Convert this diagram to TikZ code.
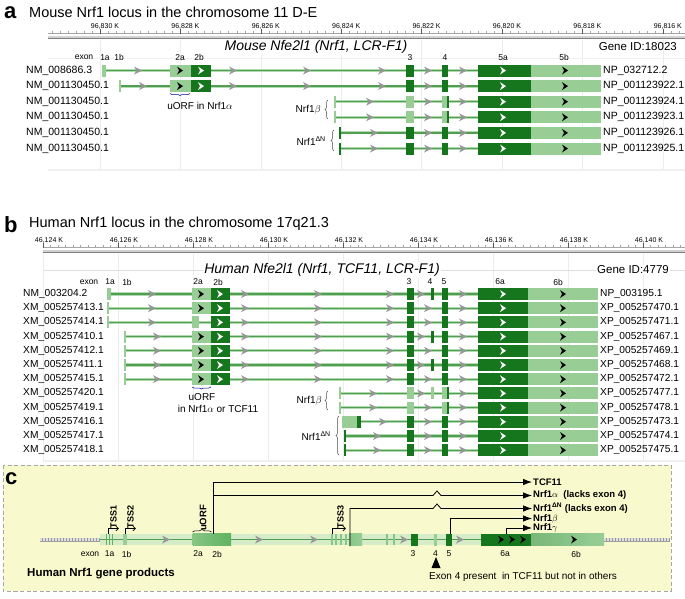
\documentclass[tikz,border=0pt]{standalone}
\usepackage{fontspec}
\setmainfont{Liberation Sans}
\usetikzlibrary{arrows.meta}
\usetikzlibrary{decorations.pathreplacing}
\usepackage{xcolor}
\definecolor{exdk}{RGB}{22,118,30}
\definecolor{exlt}{RGB}{152,206,150}
\definecolor{exmid}{RGB}{96,178,96}
\definecolor{trk}{RGB}{80,158,80}
\definecolor{trklt}{RGB}{178,218,176}
\definecolor{arrgr}{RGB}{150,150,150}
\definecolor{pnlc}{RGB}{248,249,204}
\definecolor{bandc}{RGB}{214,236,200}

\begin{document}
\begin{tikzpicture}[x=1pt,y=-1pt,
  bb/.style={draw=trklt, line width=.9pt, double=trk, double distance=1.3pt},
  dk/.style={fill=exdk}, lt/.style={fill=exlt},
  rowlab/.style={anchor=west, inner sep=0, font=\fontsize{10.5}{12}\selectfont},
  rowlabb/.style={anchor=west, inner sep=0, font=\fontsize{10.2}{12}\selectfont},
  exlab/.style={inner sep=0, font=\fontsize{8.5}{10}\selectfont},
  ticklab/.style={inner sep=0, font=\fontsize{7}{8}\selectfont},
  panlab/.style={anchor=west, inner sep=0, font=\fontsize{22}{22}\selectfont\bfseries},
  ttl/.style={anchor=west, inner sep=0, font=\fontsize{14.5}{16}\selectfont},
  gtl/.style={inner sep=1pt, fill=white, font=\fontsize{14}{16}\selectfont\itshape},
  gid/.style={anchor=east, inner sep=0, font=\fontsize{11.5}{13}\selectfont},
  isolab/.style={anchor=east, inner sep=0, font=\fontsize{10}{12}\selectfont},
  txt/.style={inner sep=0, font=\fontsize{10}{12}\selectfont},
  brc/.style={decorate, decoration={brace, amplitude=3pt}, draw=black!70, line width=.5pt},
  pr/.style={draw, line width=.8pt, -{Latex[length=9pt,width=6.5pt]}},
  tss/.style={draw, line width=.7pt, -{Straight Barb[length=2.5pt,width=4.5pt]}},
  tsslab/.style={inner sep=0, rotate=90, font=\fontsize{9}{10}\selectfont\bfseries},
  plab/.style={anchor=west, inner sep=1pt, font=\fontsize{9.5}{11}\selectfont\bfseries},
  ruleend/.style={draw=gray!75, line width=.7pt, double=gray!25, double distance=2.6pt},
  garr/.pic={\fill[arrgr] (-4,-4) -- (4,0) -- (-4,4) -- (-1.5,0) -- cycle;},
  chev/.pic={\fill (-3,-4) -- (3,0) -- (-3,4) -- (-1,0) -- cycle;}
]
\useasboundingbox (0,0) rectangle (685,598);

% ---------- a: mouse locus
\foreach \k in {0,...,7} \draw[gray!15] ({100+80.4*\k},40) -- ++(0,130);
\draw[gray!12] (48,58) -- (685,58);
\draw[gray!12, line width=2.5pt] (48,170) -- (685,170);
\node[panlab] (pa) at (4,13) {a};
\node[ttl] (ta) at (29,12.5) {Mouse Nrf1 locus in the chromosome 11 D-E};
\draw[gray!70, line width=.4pt] (48,33) -- (685,33);
\foreach \k in {-6,...,72} \draw[gray!70, line width=.3pt] ({100+8.04*\k},33) -- ++(0,-2);
\foreach \kv [count=\k from 0] in {830,828,...,816} {
  \draw[gray!70!black, line width=.4pt] ({100+80.4*\k},34) -- ++(0,-5);
  \node[ticklab] (ka\k) at ({105+80.4*\k},26.5) {96,\kv\ K};
}
\draw[gray, line width=.7pt, double=gray!35, double distance=1.6pt] (48,37) -- (685,37);
\node[gtl] (ga) at (316,47) {Mouse Nfe2l1 (Nrf1, LCR-F1)};
\node[gid] (ia) at (677,47) {Gene ID:18023};
\foreach \lb/\x in {exon/84,1a/105,1b/119,2a/180,2b/199,3/410,4/445,5a/503,5b/564}
  \node[exlab] (xa\lb) at (\x,57.5) {\lb};

\foreach \i/\nm/\np in {0/NM\_008686.3/NP\_032712.2, 1/NM\_001130450.1/NP\_001123922.1,
    2/NM\_001130450.1/NP\_001123924.1, 3/NM\_001130450.1/NP\_001123923.1,
    4/NM\_001130450.1/NP\_001123926.1, 5/NM\_001130450.1/NP\_001123925.1} {
  \node[rowlab] (ra\i) at (26,70.5+15.6*\i) {\nm};
  \node[rowlab] (qa\i) at (603,70.5+15.6*\i) {\np};
}
\foreach \i/\s in {0/104,1/119,2/335,3/335,4/340,5/340} {
  \pgfmathsetmacro\y{70.5+15.6*\i}
  \draw[bb] (\s,\y) -- (601,\y);
  \fill[dk] (478,\y-6) rectangle (531,\y+6);
  \fill[lt] (531,\y-6) rectangle (601,\y+6);
  \pic[white] at (503,\y) {chev};
  \pic[black] at (565,\y) {chev};
  \pic at (428,\y) {garr};
  \pic at (463,\y) {garr};
}
\fill[lt] (102,64.5) rectangle (106,76.5);
\fill[lt] (118.5,80.1) rectangle (120.5,92.1);
\foreach \i/\ar in {0/138,1/143} {
  \pgfmathsetmacro\y{70.5+15.6*\i}
  \fill[lt] (170,\y-6) rectangle (191,\y+6);
  \fill[dk] (191,\y-6) rectangle (211,\y+6);
  \pic[black] at (180,\y) {chev};
  \pic[white] at (201,\y) {chev};
  \foreach \x in {\ar,233,307,382} \pic at (\x,\y) {garr};
  \fill[dk] (406,\y-6) rectangle (414,\y+6);
  \fill[dk] (442,\y-6) rectangle (448,\y+6);
}
\foreach \i in {2,3} {
  \pgfmathsetmacro\y{70.5+15.6*\i}
  \fill[lt] (334,\y-6) rectangle (336,\y+6);
  \pic at (370,\y) {garr};
  \fill[lt] (406,\y-6) rectangle (414,\y+6);
  \fill[lt] (442,\y-6) rectangle (447,\y+6);
  \fill[dk] (447,\y-6) rectangle (448.5,\y+6);
}
\foreach \i in {4,5} {
  \pgfmathsetmacro\y{70.5+15.6*\i}
  \fill[dk] (339,\y-6) rectangle (341,\y+6);
  \pic at (374,\y) {garr};
  \fill[dk] (406,\y-6) rectangle (414,\y+6);
  \fill[dk] (442,\y-6) rectangle (448,\y+6);
}
\draw[brc, draw=blue!60!black, decoration={amplitude=2pt}] (190,93.5) -- (170,93.5);
\node[txt] (ua) at (200,106) {uORF in Nrf1$\alpha$};
\node[isolab] (nba) at (321,110) {Nrf1$\beta$};
\draw[brc] (328,119) -- (328,100);
\node[isolab] (nda) at (326,141) {Nrf1\textsuperscript{ΔN}};
\draw[brc] (334,151) -- (334,130);

% ---------- b: human locus
\foreach \k in {0,...,8} \draw[gray!15] ({43+75*\k},254) -- ++(0,206);
\draw[gray!25] (43,270) -- (685,270);
\draw[gray!12, line width=2.5pt] (43,461) -- (685,461);
\node[panlab] (pb) at (4,225) {b};
\node[ttl] (tb) at (29,224) {Human Nrf1 locus in the chromosome 17q21.3};
\draw[gray!70, line width=.4pt] (43,247) -- (685,247);
\foreach \k in {0,...,85} \draw[gray!70, line width=.3pt] ({43+7.5*\k},247) -- ++(0,-2);
\foreach \kv [count=\k from 0] in {124,126,...,140} {
  \draw[gray!70!black, line width=.4pt] ({43+75*\k},248) -- ++(0,-5);
  \node[ticklab] (kb\k) at ({49+75*\k},240.5) {46,\kv\ K};
}
\draw[gray, line width=.7pt, double=gray!35, double distance=1.6pt] (43,251) -- (685,251);
\node[gtl] (gb) at (322,270) {Human Nfe2l1 (Nrf1, TCF11, LCR-F1)};
\node[gid, fill=white, inner sep=1pt] (ib) at (670,270) {Gene ID:4779};
\foreach \lb/\x in {exon/89,1a/110,1b/127,2a/198,2b/218,3/409,4/430,5/444,6a/500,6b/558}
  \node[exlab] (xb\lb) at (\x,282) {\lb};

\foreach \i/\nm/\np in {0/NM\_003204.2/NP\_003195.1, 1/XM\_005257413.1/XP\_005257470.1,
    2/XM\_005257414.1/XP\_005257471.1, 3/XM\_005257410.1/XP\_005257467.1,
    4/XM\_005257412.1/XP\_005257469.1, 5/XM\_005257411.1/XP\_005257468.1,
    6/XM\_005257415.1/XP\_005257472.1, 7/XM\_005257420.1/XP\_005257477.1,
    8/XM\_005257419.1/XP\_005257478.1, 9/XM\_005257416.1/XP\_005257473.1,
    10/XM\_005257417.1/XP\_005257474.1, 11/XM\_005257418.1/XP\_005257475.1} {
  \node[rowlabb] (rb\i) at (23,294+14.2*\i) {\nm};
  \node[rowlabb] (qb\i) at (600,294+14.2*\i) {\np};
}
\foreach \i/\s/\cl/\f in {0/109/dk/1,1/108/dk/0,2/108/dk/0,3/125/dk/1,4/125/dk/0,5/125/dk/1,
    6/125/dk/0,7/340/lt/1,8/340/lt/0,9/357/dk/0,10/345/dk/0,11/345/dk/0} {
  \pgfmathsetmacro\y{294+14.2*\i}
  \draw[bb] (\s,\y) -- (598,\y);
  \fill[\cl] (407,\y-6) rectangle (414,\y+6);
  \fill[\cl] (442,\y-6) rectangle (448,\y+6);
  \ifnum\f=1
    \fill[\cl] (431,\y-6) rectangle (434,\y+6);
    \pic at (421,\y) {garr};
  \else
    \pic at (428,\y) {garr};
  \fi
  \fill[dk] (478,\y-6) rectangle (528,\y+6);
  \fill[lt] (528,\y-6) rectangle (598,\y+6);
  \pic[white] at (503,\y) {chev};
  \pic[black] at (563,\y) {chev};
  \pic at (463,\y) {garr};
}
\fill[lt] (107,288) rectangle (111,300);
\foreach \i/\s/\cl in {1/108/lt,2/108/lt,3/125/lt,4/125/lt,5/125/lt,6/125/lt,
    7/340/lt,8/340/lt,10/345/dk,11/345/dk}
  \fill[\cl] (\s-1,294+14.2*\i-6) rectangle (\s+1,294+14.2*\i+6);
\fill[lt] (342,421.8-6) rectangle (357,421.8+6);
\fill[dk] (357,421.8-6) rectangle (361,421.8+6);
\foreach \i in {7,8} \fill[dk] (447,294+14.2*\i-6) rectangle (448.5,294+14.2*\i+6);
\foreach \i/\ar in {7/373,8/373,9/383,10/377,11/377} \pic at (\ar,294+14.2*\i) {garr};
\foreach \i/\ar/\e in {0/152/211,1/152/211,2/152/199,3/157/211,4/157/211,5/157/211,6/157/211} {
  \pgfmathsetmacro\y{294+14.2*\i}
  \fill[lt] (192,\y-6) rectangle (\e,\y+6);
  \fill[dk] (211,\y-6) rectangle (230,\y+6);
  \ifnum\e=211 \pic[black] at (201,\y) {chev}; \fi
  \pic[white] at (220,\y) {chev};
  \foreach \x in {\ar,245,318,390} \pic at (\x,\y) {garr};
}
\draw[brc, draw=blue!60!black, decoration={amplitude=2pt}] (211,387) -- (192,387);
\node[txt] (ub1) at (202,397) {uORF};
\node[txt] (ub2) at (218,408.5) {in Nrf1$\alpha$ or TCF11};
\node[isolab] (nbb) at (322,400.5) {Nrf1$\beta$};
\draw[brc] (328,410) -- (328,391);
\node[isolab] (ndb) at (331,436) {Nrf1\textsuperscript{ΔN}};
\draw[brc] (339,455) -- (339,416);

% ---------- c: gene products
\draw[gray!70, dash pattern=on 4pt off 2.5pt, fill=pnlc] (3,465) rectangle (671,591);
\node[panlab] (pc) at (5,479) {c};
\draw[ruleend] (40,539.5) -- (100,539.5);
\draw[ruleend] (604,539.5) -- (670,539.5);
\foreach \x in {42,45,...,99,606,609,...,669} \draw[gray!80, line width=.3pt] (\x,538) -- ++(0,3);
\fill[bandc] (100,534) rectangle (604,545);
\draw[trk, line width=1.2pt] (100,539.5) -- (604,539.5);
\foreach \x in {106.5,109.5,112.5} \fill[exmid] (\x-.8,534) rectangle (\x+.8,545);
\fill[exlt] (123,534) rectangle (127,545);
\shade[left color=exlt!70!exmid, right color=exmid] (192.5,533.5) rectangle (231,545.5);
\foreach \x in {332,336,341,346} \fill[exlt!70!exmid] (\x-.9,534) rectangle (\x+.9,545);
\shade[left color=exlt!70!exmid, right color=exlt] (349,533.5) rectangle (362,545.5);
\foreach \x in {387,394} \fill[exlt!70!exmid] (\x-1.2,534) rectangle (\x+1.2,545);
\fill[dk] (411,533.5) rectangle (417.5,545.5);
\fill[lt] (434,533.5) rectangle (437,545.5);
\fill[dk] (446,533.5) rectangle (451.5,545.5);
\fill[dk] (481,533.5) rectangle (531,545.5);
\shade[left color=exlt!75!exdk, right color=exlt] (531,533.5) rectangle (604,545.5);
\foreach \x in {501,512,523,574} \pic[black] at (\x,539.5) {chev};
\foreach \x in {166,259,314,404,460} \pic at (\x,539.5) {garr};
\foreach \lb/\x in {exon/90,1a/109.5,1b/126.5,2a/198,2b/217,3/413,4/435.5,5/449,6a/505,6b/576}
  \node[exlab] (xc\lb) at (\x,554) {\lb};

% start sites and uORF
\node[tsslab] (ts1) at (113.5,517) {TSS1};
\node[tsslab] (ts2) at (130.5,517) {TSS2};
\node[tsslab] (ts3) at (340.5,517) {TSS3};
\coordinate (e1a) at (108,534);
\coordinate (e1b) at (125,534);
\coordinate (e3s) at (332,534);
\draw[tss] (e1a) -- ++(0,-5.5) -- ++(11,0);
\draw[tss] (e1b) -- ++(0,-5.5) -- ++(11,0);
\draw[tss] (e3s) -- ++(0,-5.5) -- ++(14,0);
\node[tsslab, font=\fontsize{9.5}{10}\selectfont\bfseries] (uo) at (203,518) {uORF};
\draw[brc, draw=black, decoration={amplitude=2.5pt}] (192.5,532) -- (211.5,532);

% products
\node[plab] (pt) at (532,482) {TCF11};
\node[plab] (pal) at (532,495.5) {Nrf1$\alpha$\ \ (lacks exon 4)};
\node[plab] (pdn) at (532,508.5) {Nrf1\textsuperscript{ΔN} (lacks exon 4)};
\node[plab] (pbe) at (532,518.5) {Nrf1$\beta$};
\node[plab] (pga) at (532,528) {Nrf1$\gamma$};
\coordinate (o2b) at (213,533.5);
\coordinate (oal) at (213,495.5);
\coordinate (odn) at (350,546);
\coordinate (o5) at (450,533.5);
\coordinate (o6) at (506,533.5);
\draw[pr] (o2b) |- (pt.west);
\draw[pr] (oal) -- (433,495.5) -- ++(4,-4.5) -- ++(4,4.5) -- (pal.west);
\draw[pr] (odn) -- (350,508.5) -- (433,508.5) -- ++(4,-4.5) -- ++(4,4.5) -- (pdn.west);
\draw[pr] (o5) |- (pbe.west);
\draw[pr] (o6) |- (pga.west);

\fill (436,557) -- (440.5,568) -- (431.5,568) -- cycle;
\node[anchor=west, inner sep=0, font=\fontsize{10}{12}\selectfont] (e4n) at (429,576.5)
  {Exon 4 present\ \ in TCF11 but not in others};
\node[anchor=west, inner sep=0, font=\fontsize{11.5}{13}\selectfont\bfseries] (hg) at (27,574)
  {Human Nrf1 gene products};
\end{tikzpicture}
\end{document}
